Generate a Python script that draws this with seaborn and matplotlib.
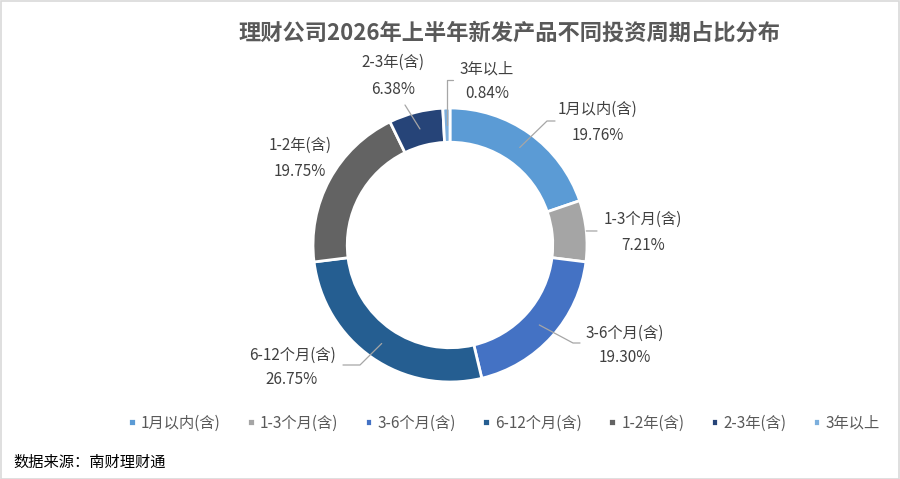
import matplotlib
matplotlib.use("Agg")
import matplotlib.pyplot as plt
import seaborn as sns
import numpy as np
from matplotlib.patches import Rectangle

categories = ["1月以内(含)", "1-3个月(含)", "3-6个月(含)", "6-12个月(含)", "1-2年(含)", "2-3年(含)", "3年以上"]
values = [19.76, 7.21, 19.30, 26.75, 19.75, 6.38, 0.84]
value_labels = ["19.76%", "7.21%", "19.30%", "26.75%", "19.75%", "6.38%", "0.84%"]
title = "理财公司2026年上半年新发产品不同投资周期占比分布"
source = "数据来源：南财理财通"

colors = ["#5B9BD5", "#A5A5A5", "#4472C4", "#255E91", "#636363", "#264478", "#7CAFDD"]

sns.set_theme(style="white")
plt.rcParams['font.family'] = ['Noto Sans CJK SC', 'DejaVu Sans']

W, H = 900, 479
fig = plt.figure(figsize=(W / 100, H / 100), dpi=100)
fig.patch.set_facecolor("white")

CX, CY, R = 450, 245, 137
ax = fig.add_axes([0, 0, 1, 1])
ax.axis("off")

palette = sns.color_palette(colors)
wedges, _ = ax.pie(values, colors=palette, startangle=90, counterclock=False,
                   radius=1.0, wedgeprops=dict(width=0.25, edgecolor="white", linewidth=2),
                   center=(0, 0))
ax.set_xlim(-CX / R, (W - CX) / R)
ax.set_ylim(-(H - CY) / R, CY / R)
ax.set_aspect("auto")


def p2d(px, py):
    return (px - CX) / R, (CY - py) / R


# label layout (pixel positions): name center, value center, leader start radius, elbow, end
layout = [
    dict(name=(598, 109), val=(598, 136), r=0.875, elbow=(547, 121), end=(555, 121)),
    dict(name=(643, 219), val=(643, 245), r=1.0, elbow=(597, 231), end=None),
    dict(name=(625, 333), val=(625, 357), r=0.875, elbow=(573, 343), end=(580, 343)),
    dict(name=(292, 355), val=(292, 380), r=0.875, elbow=(360, 365), end=(343, 365)),
    dict(name=(300, 145), val=(300, 172), r=None, elbow=None, end=None),
    dict(name=(393, 62), val=(393, 90), r=0.875, elbow=(405, 105), end=None),
    dict(name=(487, 69), val=(487, 93), r=0.875, elbow=None, end=None),
]

txt_color = "#404040"
line_color = "#A6A6A6"
for w, cat, vl, lay in zip(wedges, categories, value_labels, layout):
    ang = np.deg2rad((w.theta1 + w.theta2) / 2)
    ax.text(*p2d(*lay["name"]), cat, ha="center", va="center", fontsize=11, color=txt_color)
    ax.text(*p2d(*lay["val"]), vl, ha="center", va="center", fontsize=11, color=txt_color)
    if lay["r"] is None:
        continue
    sx, sy = lay["r"] * np.cos(ang), lay["r"] * np.sin(ang)
    if lay["elbow"] is None:
        ex, ey = p2d(0, 80)
        ax.plot([sx, sx, sx + 6 / R], [sy, ey, ey], color=line_color, lw=0.9)
        continue
    pts_x = [sx]
    pts_y = [sy]
    ex, ey = p2d(*lay["elbow"])
    pts_x.append(ex)
    pts_y.append(ey)
    if lay["end"] is not None:
        fx, fy = p2d(*lay["end"])
        pts_x.append(fx)
        pts_y.append(fy)
    ax.plot(pts_x, pts_y, color=line_color, lw=0.9)

fig.text(510 / W, 1 - 33 / H, title, ha="center", va="center", fontsize=16,
         fontweight="bold", color="#595959")

leg = fig.legend(wedges, categories, loc="center", bbox_to_anchor=(504 / W, 1 - 423 / H),
                 ncol=7, frameon=False, fontsize=11, handlelength=0.5, handleheight=0.5,
                 handletextpad=0.35, columnspacing=1.72, labelcolor="#595959")

fig.text(13 / W, 1 - 462 / H, source, ha="left", va="center", fontsize=11, color="#000000")

fig.add_artist(Rectangle((0.5 / W, 0.5 / H), 1 - 1.5 / W, 1 - 1.5 / H, transform=fig.transFigure,
                         fill=False, edgecolor="#D9D9D9", lw=1.2))

fig.savefig("out.png", dpi=100, facecolor="white")
